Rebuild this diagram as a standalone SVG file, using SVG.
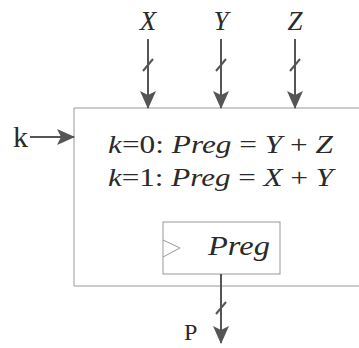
<svg xmlns="http://www.w3.org/2000/svg" width="359" height="348" viewBox="0 0 359 348">
<defs>
<style>
.t{font-family:"Liberation Serif","Times New Roman",serif;fill:#2a2a2a}
.i{font-style:italic}
.w{stroke:#555;stroke-width:2;fill:none}
.box{fill:none;stroke:#999;stroke-width:1}
</style>
<marker id="ah" viewBox="0 0 18 16" refX="17" refY="8" markerWidth="18" markerHeight="16" markerUnits="userSpaceOnUse" orient="auto">
<path d="M0,0 L18,8 L0,16 L4,8 Z" fill="#555"/>
</marker>
</defs>
<rect width="359" height="348" fill="#fff"/>
<g id="main-block">
<path class="box" d="M359,108 H74 V286 H359"/>
<text class="t" font-size="26" y="153" x="108" textLength="225" lengthAdjust="spacingAndGlyphs"><tspan class="i">k</tspan>=0: <tspan class="i">Preg</tspan> = <tspan class="i">Y</tspan> + <tspan class="i">Z</tspan></text>
<text class="t" font-size="26" y="186" x="108" textLength="225" lengthAdjust="spacingAndGlyphs"><tspan class="i">k</tspan>=1: <tspan class="i">Preg</tspan> = <tspan class="i">X</tspan> + <tspan class="i">Y</tspan></text>
</g>
<g id="preg">
<rect class="box" x="163" y="222" width="117" height="52"/>
<path d="M163,240 L180,248 L163,257" fill="none" stroke="#999" stroke-width="1"/>
<text class="t i" font-size="27" x="208" y="255" textLength="62" lengthAdjust="spacingAndGlyphs">Preg</text>
</g>
<g id="labels">
<text class="t i" font-size="27" x="148" y="30" text-anchor="middle">X</text>
<text class="t i" font-size="27" x="221" y="30" text-anchor="middle">Y</text>
<text class="t i" font-size="27" x="295" y="30" text-anchor="middle">Z</text>
<text class="t" font-size="30" x="13" y="147">k</text>
<text class="t" font-size="24" x="184" y="340">P</text>
</g>
<g id="connectors">
<line class="w" x1="148" y1="39" x2="148" y2="108" marker-end="url(#ah)"/>
<line class="w" x1="221" y1="39" x2="221" y2="108" marker-end="url(#ah)"/>
<line class="w" x1="295" y1="39" x2="295" y2="108" marker-end="url(#ah)"/>
<line class="w" x1="143" y1="71" x2="153" y2="59"/>
<line class="w" x1="216" y1="71" x2="226" y2="59"/>
<line class="w" x1="290" y1="71" x2="300" y2="59"/>
<line class="w" x1="30" y1="137" x2="74" y2="137" marker-end="url(#ah)"/>
<line class="w" x1="221" y1="274" x2="221" y2="343" marker-end="url(#ah)"/>
<line class="w" x1="216" y1="314" x2="226" y2="302"/>
</g>
</svg>
